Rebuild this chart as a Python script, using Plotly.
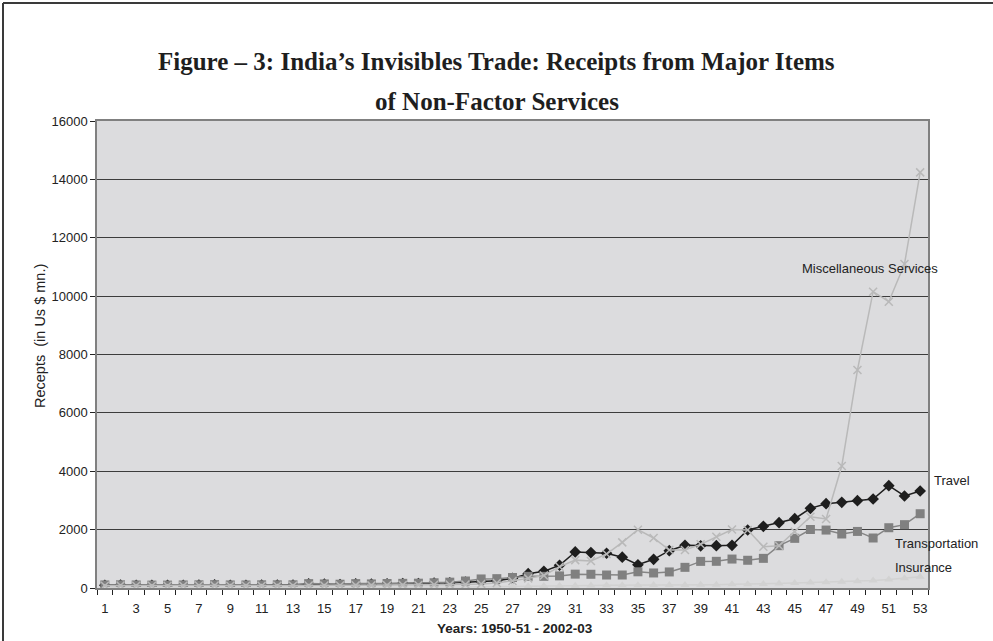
import plotly.graph_objects as go

# Years 1950-51 .. 2002-03 numbered 1..53
years = list(range(1, 54))

# Receipts (US$ mn.)
travel = [95, 100, 95, 90, 90, 95, 100, 105, 95, 95,
          100, 100, 100, 140, 130, 120, 140, 130, 145, 150,
          155, 170, 180, 200, 220, 250, 330, 490, 570, 780,
          1235, 1215, 1190, 1055, 795, 983, 1279, 1461, 1444, 1450,
          1461, 1987, 2113, 2238, 2375, 2730, 2889, 2935, 2992, 3049,
          3506, 3152, 3323]

transportation = [105, 110, 105, 100, 100, 105, 110, 115, 105, 105,
                  110, 110, 110, 150, 140, 130, 150, 140, 155, 160,
                  165, 180, 200, 240, 310, 320, 360, 400, 400, 415,
                  475, 470, 445, 445, 555, 515, 550, 708, 912, 914,
                  992, 950, 1016, 1450, 1701, 2005, 1985, 1850, 1938, 1713,
                  2065, 2170, 2545]

misc_services = [80, 85, 80, 75, 75, 80, 85, 85, 80, 80,
                 80, 80, 80, 85, 85, 85, 90, 90, 95, 100,
                 105, 110, 115, 120, 140, 170, 240, 330, 430, 730,
                 955, 925, 1165, 1564, 1998, 1713, 1302, 1302, 1496, 1758,
                 2005, 1987, 1416, 1450, 1930, 2443, 2364, 4180, 7468, 10151,
                 9809, 11100, 14240]

insurance = [10, 10, 10, 10, 12, 12, 12, 14, 14, 14,
             15, 15, 16, 16, 18, 18, 20, 20, 22, 22,
             25, 28, 30, 35, 40, 50, 55, 60, 70, 75,
             80, 85, 90, 90, 95, 100, 100, 105, 110, 115,
             125, 130, 140, 150, 170, 185, 200, 215, 230, 255,
             295, 330, 385]

y_ticks = [0, 2000, 4000, 6000, 8000, 10000, 12000, 14000, 16000]
x_labels = list(range(1, 54, 2))

# Plot-area geometry in pixels
W, H = 993, 641
ML, MR, MT, MB = 97, 65, 121, 53
PW, PH = W - ML - MR, H - MT - MB


def px_x(px):
    return (px - ML) / PW


def px_y(py):
    return (H - MB - py) / PH


fig = go.Figure()

# Travel drawn first so the other series sit on top of it
fig.add_trace(go.Scatter(
    x=years, y=travel, name="Travel", mode="lines+markers",
    line=dict(color="#1e1e1e", width=1.5),
    marker=dict(symbol="diamond", size=9, color="#1e1e1e"),
))
fig.add_trace(go.Scatter(
    x=years, y=transportation, name="Transportation", mode="lines+markers",
    line=dict(color="#858585", width=1.5),
    marker=dict(symbol="square", size=9, color="#808080"),
))
fig.add_trace(go.Scatter(
    x=years, y=insurance, name="Insurance", mode="lines+markers",
    line=dict(color="#d2d2d2", width=1.5),
    marker=dict(symbol="triangle-up", size=8, color="#d2d2d2"),
))
fig.add_trace(go.Scatter(
    x=years, y=misc_services, name="Miscellaneous Services", mode="lines+markers",
    line=dict(color="#b9b9b9", width=1.5),
    marker=dict(symbol="x-thin", size=8, line=dict(color="#b9b9b9", width=1.5)),
))

# Series labels next to the line ends
label_font = dict(family="Liberation Sans, Arial, sans-serif", size=13, color="#222222")
labels = [
    ("Miscellaneous Services", 800, 268),
    ("Travel", 932, 480),
    ("Transportation", 893, 543),
    ("Insurance", 893, 567),
]
for text, lx, ly in labels:
    fig.add_annotation(xref="paper", yref="paper", x=px_x(lx), y=px_y(ly),
                       text=text, showarrow=False, xanchor="left", yanchor="middle",
                       font=label_font)

# Title, two centred lines
title_font = dict(family="Liberation Serif, serif", size=25, color="#1e1e1e")
for text, ty in [("<b>Figure – 3: India’s Invisibles Trade: Receipts from Major Items</b>", 62),
                 ("<b>of Non-Factor Services</b>", 102)]:
    fig.add_annotation(xref="paper", yref="paper", x=px_x(W / 2), y=px_y(ty),
                       text=text, showarrow=False, xanchor="center", yanchor="middle",
                       font=title_font)

# Axis titles
fig.add_annotation(xref="paper", yref="paper", x=px_x(515), y=px_y(628),
                   text="<b>Years: 1950-51 - 2002-03</b>", showarrow=False,
                   xanchor="center", yanchor="middle",
                   font=dict(family="Liberation Sans, Arial, sans-serif", size=13.5, color="#222222"))
fig.add_annotation(xref="paper", yref="paper", x=px_x(40), y=px_y(336),
                   text="Recepts  (in Us $ mn.)", showarrow=False, textangle=-90,
                   xanchor="center", yanchor="middle",
                   font=dict(family="Liberation Sans, Arial, sans-serif", size=14.5, color="#222222"))

# Outer frame (left and top edges)
fig.add_shape(type="line", xref="paper", yref="paper",
              x0=px_x(3), x1=px_x(3), y0=px_y(3), y1=px_y(H + 5),
              line=dict(color="#3a3a3a", width=2))
fig.add_shape(type="line", xref="paper", yref="paper",
              x0=px_x(3), x1=px_x(W + 5), y0=px_y(3), y1=px_y(3),
              line=dict(color="#3a3a3a", width=2))

fig.update_layout(
    width=W, height=H,
    margin=dict(l=ML, r=MR, t=MT, b=MB, autoexpand=False),
    paper_bgcolor="white",
    plot_bgcolor="#dcdcde",
    showlegend=False,
)

tick_font = dict(family="Liberation Sans, Arial, sans-serif", size=13, color="#222222")

fig.update_xaxes(
    range=[0.5, 53.5], automargin=False,
    tickmode="array", tickvals=x_labels, ticktext=[str(v) for v in x_labels],
    ticks="", showgrid=False, zeroline=False, ticklabelstandoff=8,
    showline=True, linecolor="#808080", linewidth=1.5, mirror=True,
    tickfont=tick_font,
    minor=dict(tickmode="array", tickvals=[v + 0.5 for v in range(0, 54)],
               ticks="outside", ticklen=5, tickcolor="#222222", tickwidth=1,
               showgrid=False),
)

fig.update_yaxes(
    range=[0, 16000], automargin=False,
    tickmode="array", tickvals=y_ticks, ticktext=[str(v) for v in y_ticks],
    ticks="outside", ticklen=5, tickcolor="#222222",
    showgrid=True, gridcolor="#3c3c3c", gridwidth=1.2, zeroline=False,
    showline=True, linecolor="#808080", linewidth=1.5, mirror=True,
    tickfont=tick_font,
)

fig.write_html("out.html")
